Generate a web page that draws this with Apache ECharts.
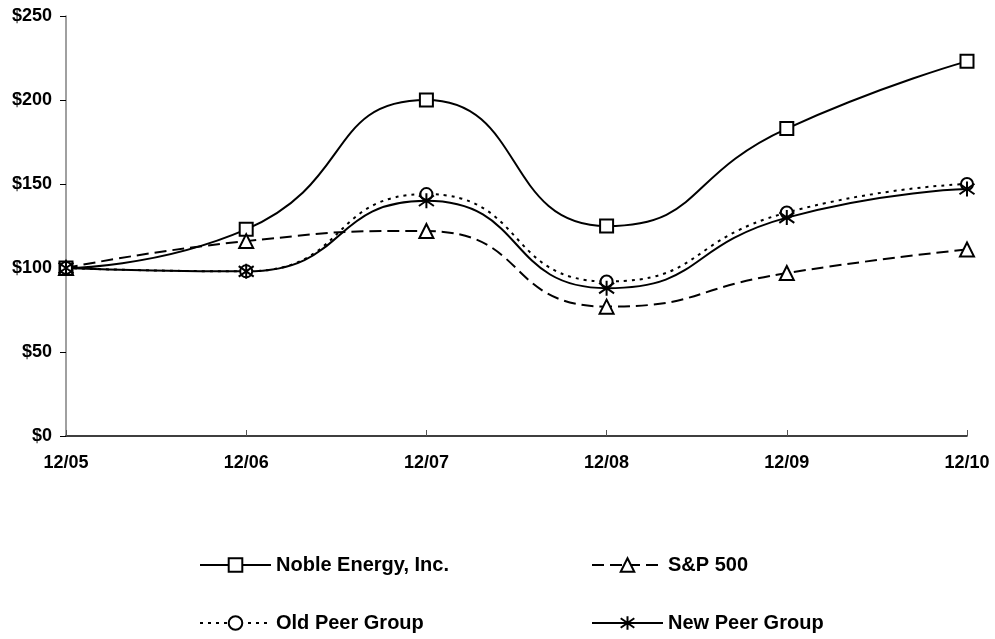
<!DOCTYPE html>
<html>
<head>
<meta charset="utf-8">
<script src="https://cdn.jsdelivr.net/npm/echarts@6/dist/echarts.min.js"></script>
<style>
html,body{margin:0;padding:0;background:#fff;}
#chart{width:995px;height:639px;}
</style>
</head>
<body>
<div id="chart"></div>
<script>
const categories = ['12/05', '12/06', '12/07', '12/08', '12/09', '12/10'];
const yTicks = [0, 50, 100, 150, 200, 250];
const nobleEnergy = [100, 123, 200, 125, 183, 223];
const sp500 = [100, 116, 122, 77, 97, 111];
const oldPeerGroup = [100, 98, 144, 92, 133, 150];
const newPeerGroup = [100, 98, 140, 88, 130, 147];
const seriesNames = ['Noble Energy, Inc.', 'S&P 500', 'Old Peer Group', 'New Peer Group'];

const FONT = '"Liberation Sans", Arial, sans-serif';
const asterisk = 'path://M5,0L5,10M1,1.5L9,8.5M9,1.5L1,8.5';

function mkSeries(name, data, symbol, size, lineType, fill) {
  return {
    name: name,
    type: 'line',
    data: data,
    smooth: 0.55,
    symbol: symbol,
    symbolSize: size,
    showAllSymbol: true,
    lineStyle: { color: '#000', width: 2, type: lineType },
    itemStyle: { color: fill, borderColor: '#000', borderWidth: 2 },
    emphasis: { disabled: true },
    z: 2
  };
}

const chart = echarts.init(document.getElementById('chart'), null, { renderer: 'canvas' });

function legendAt(name, left, top) {
  return {
    data: [name],
    left: left,
    top: top,
    orient: 'horizontal',
    itemWidth: 71,
    itemHeight: 17,
    itemGap: 0,
    padding: 0,
    selectedMode: false,
    textStyle: { fontFamily: FONT, fontWeight: 'bold', fontSize: 20, color: '#000' }
  };
}

chart.setOption({
  animation: false,
  backgroundColor: '#fff',
  grid: { left: 66, right: 28, top: 16, bottom: 203, containLabel: false },
  legend: [
    legendAt(seriesNames[0], 199, 555),
    legendAt(seriesNames[1], 591, 555),
    legendAt(seriesNames[2], 199, 613),
    legendAt(seriesNames[3], 591, 613)
  ],
  xAxis: {
    type: 'category',
    data: categories,
    boundaryGap: false,
    axisLine: { lineStyle: { color: '#000', width: 1.5 } },
    axisTick: { show: true, inside: true, length: 6, alignWithLabel: true, lineStyle: { color: '#555', width: 1 } },
    axisLabel: { fontFamily: FONT, fontWeight: 'bold', fontSize: 18, color: '#000', margin: 18 },
    splitLine: { show: false }
  },
  yAxis: {
    type: 'value',
    min: yTicks[0],
    max: yTicks[yTicks.length - 1],
    interval: yTicks[1] - yTicks[0],
    axisLine: { show: true, lineStyle: { color: '#808080', width: 1.5 } },
    axisTick: { show: true, inside: false, length: 6, lineStyle: { color: '#000', width: 1 } },
    axisLabel: { fontFamily: FONT, fontWeight: 'bold', fontSize: 18, color: '#000', margin: 14, formatter: '${value}' },
    splitLine: { show: false }
  },
  series: [
    mkSeries(seriesNames[0], nobleEnergy, 'rect', 13, 'solid', '#fff'),
    mkSeries(seriesNames[1], sp500, 'triangle', 14, [12, 6], '#fff'),
    mkSeries(seriesNames[2], oldPeerGroup, 'circle', 12, [3, 5], '#fff'),
    mkSeries(seriesNames[3], newPeerGroup, asterisk, 15, 'solid', '#000')
  ]
});
</script>
</body>
</html>
